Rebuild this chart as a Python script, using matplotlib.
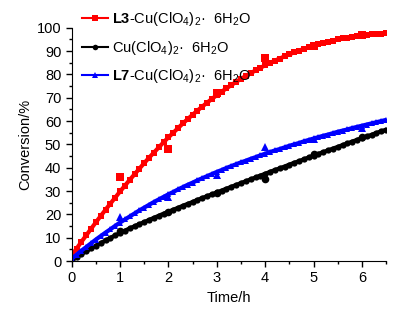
import numpy as np
import matplotlib
matplotlib.use("Agg")
import matplotlib.pyplot as plt
from matplotlib.lines import Line2D

plt.rcParams['font.family'] = ['Liberation Sans', 'DejaVu Sans']
plt.rcParams['mathtext.fontset'] = 'custom'
plt.rcParams['mathtext.rm'] = 'Liberation Sans'
plt.rcParams['mathtext.bf'] = 'Liberation Sans:bold'

# ---------------- DATA ----------------
# measured points
t_pts = [1, 2, 3, 4, 5, 6]
l3_pts = [36, 48, 72, 87, 92, 97]
cu_pts = [13, 21, 29, 35, 46, 53]
l7_pts = [19, 27.5, 37, 49, 52.5, 57]

# fitted curves, read every 0.1 h from 0 to 6.5
t_fit = [round(0.1 * i, 1) for i in range(66)]
l3_fit = [2.5, 5.3, 8.2, 11.0, 13.8, 16.6, 19.3, 22.0, 24.6, 27.2,
          29.8, 32.3, 34.8, 37.2, 39.6, 42.0, 44.3, 46.5, 48.7, 50.9,
          53.0, 55.0, 57.0, 59.0, 60.9, 62.7, 64.5, 66.2, 67.9, 69.5,
          71.1, 72.6, 74.0, 75.4, 76.8, 78.1, 79.3, 80.5, 81.7, 82.8,
          83.9, 84.9, 85.9, 86.8, 87.7, 88.6, 89.4, 90.2, 90.9, 91.6,
          92.3, 92.9, 93.5, 94.0, 94.5, 95.0, 95.4, 95.8, 96.2, 96.5,
          96.8, 97.0, 97.2, 97.4, 97.5, 97.6]
cu_fit = [0.5, 1.8, 3.0, 4.2, 5.4, 6.6, 7.7, 8.8, 9.9, 11.0,
          12.0, 13.0, 14.0, 14.9, 15.8, 16.7, 17.6, 18.5, 19.4, 20.3,
          21.1, 22.0, 22.8, 23.7, 24.5, 25.3, 26.2, 27.0, 27.8, 28.6,
          29.4, 30.2, 31.0, 31.8, 32.6, 33.4, 34.2, 35.0, 35.8, 36.6,
          37.4, 38.2, 39.0, 39.7, 40.5, 41.3, 42.1, 42.8, 43.6, 44.4,
          45.2, 45.9, 46.7, 47.4, 48.2, 48.9, 49.7, 50.4, 51.2, 51.9,
          52.7, 53.4, 54.1, 54.9, 55.6, 56.3]
l7_fit = [1.0, 2.7, 4.4, 6.0, 7.6, 9.2, 10.7, 12.2, 13.6, 15.1,
          16.5, 17.8, 19.1, 20.4, 21.7, 22.9, 24.1, 25.3, 26.4, 27.5,
          28.6, 29.6, 30.7, 31.7, 32.7, 33.6, 34.6, 35.5, 36.4, 37.3,
          38.2, 39.0, 39.9, 40.7, 41.5, 42.3, 43.0, 43.8, 44.5, 45.3,
          46.0, 46.7, 47.4, 48.0, 48.7, 49.4, 50.0, 50.6, 51.3, 51.9,
          52.5, 53.1, 53.7, 54.2, 54.8, 55.4, 55.9, 56.4, 57.0, 57.5,
          58.0, 58.5, 59.0, 59.5, 60.0, 60.5]

labels = [r"$\mathbf{L3}$-Cu(ClO$_4$)$_2$·  6H$_2$O",
          r"Cu(ClO$_4$)$_2$·  6H$_2$O",
          r"$\mathbf{L7}$-Cu(ClO$_4$)$_2$·  6H$_2$O"]
colors = ["#ff0000", "#000000", "#0000ff"]
markers = ["s", "o", "^"]

# ---------------- PLOT ----------------
fig = plt.figure(figsize=(4.06, 3.10), dpi=100)
ax = fig.add_axes([0.1766, 0.158, 0.7744, 0.7526])

series = [(l3_pts, l3_fit), (cu_pts, cu_fit), (l7_pts, l7_fit)]
handles = []
for (pts, fit), c, m in zip(series, colors, markers):
    ax.plot(t_fit, fit, color=c, lw=3, marker=m, ms=4.5, mew=0, ls="-")
    ax.plot(t_pts, pts, color=c, lw=0, marker=m, ms=5.5, mew=0)
    handles.append(Line2D([], [], color=c, lw=1.5, marker=m, ms=4, mew=0))

ax.set_xlim(0, 6.5)
ax.set_ylim(0, 100)
ax.set_xticks(range(0, 7))
ax.set_yticks(range(0, 101, 10))
ax.set_xticks(np.arange(0, 6.6, 0.5), minor=True)
ax.set_yticks(range(0, 101, 5), minor=True)
ax.tick_params(which="major", direction="out", length=4, width=1, labelsize=10.5)
ax.tick_params(which="minor", direction="out", length=2, width=1)
ax.spines["top"].set_visible(False)
ax.spines["right"].set_visible(False)
ax.set_xlabel("Time/h", fontsize=10.5, labelpad=4)
ax.set_ylabel("Conversion/%", fontsize=10.5, labelpad=3)

fig.legend(handles, labels, loc="upper left", bbox_to_anchor=(0.18, 0.995),
           frameon=False, fontsize=10.5, handlelength=1.8, handletextpad=0.25,
           labelspacing=0.72, borderaxespad=0.2)

fig.savefig("out.png", dpi=100)
